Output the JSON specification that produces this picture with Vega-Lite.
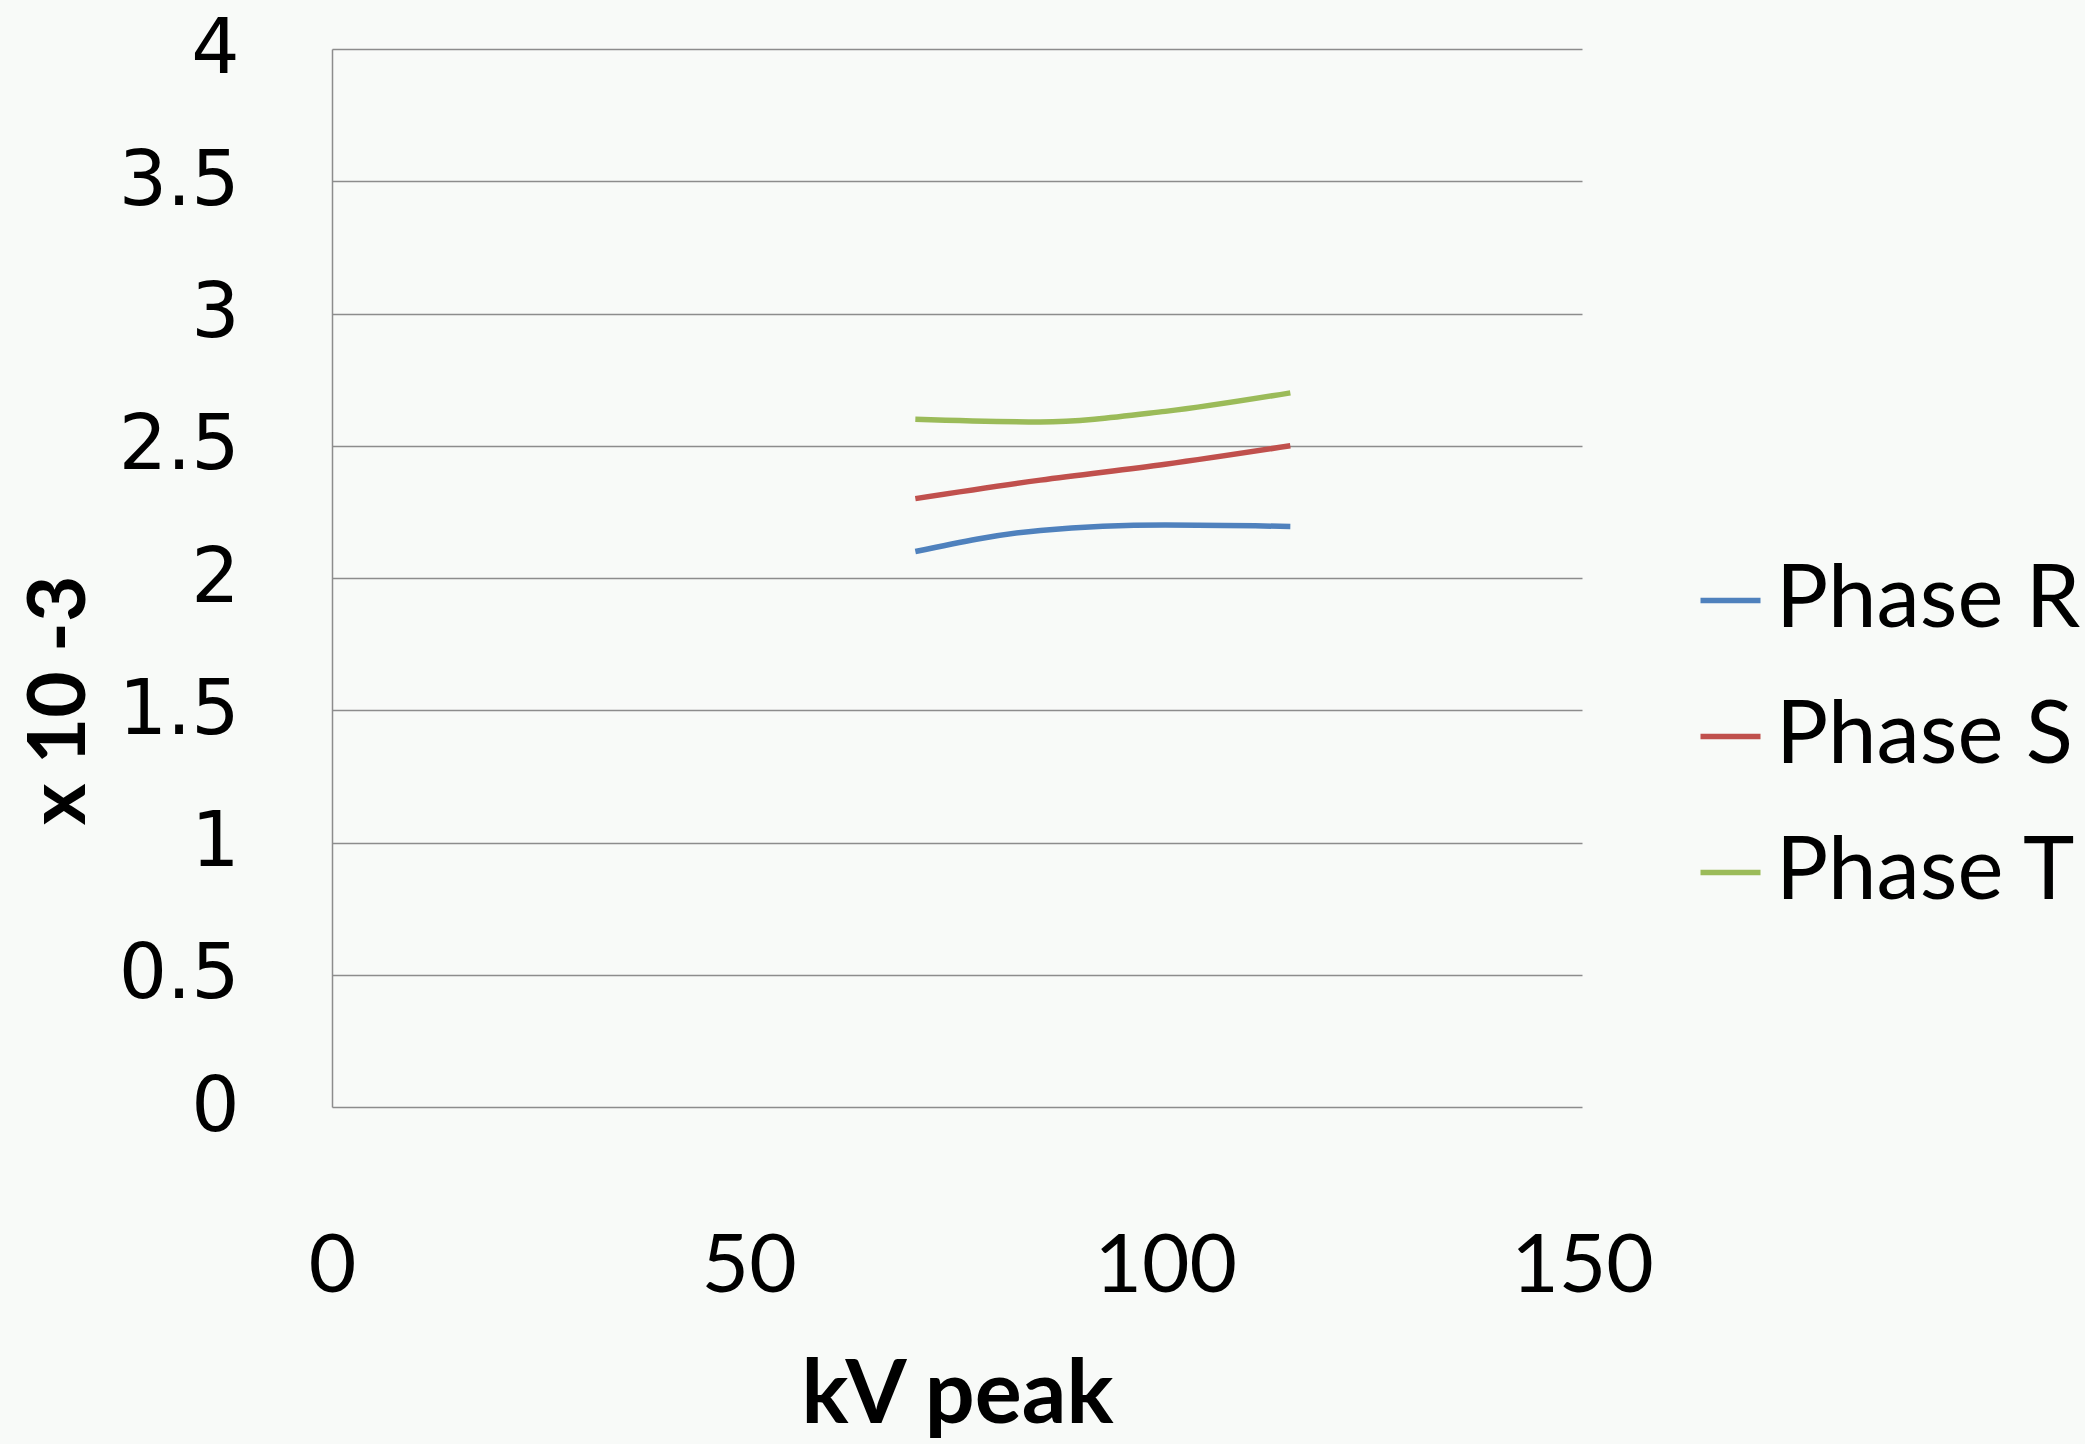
{
  "$schema": "https://vega.github.io/schema/vega-lite/v6.json",
  "width": 1250,
  "height": 1058,
  "autosize": "none",
  "padding": {"left": 332, "top": 49, "right": 503, "bottom": 337},
  "background": "#F8FAF8",
  "data": {
    "values": [
      {"kv": 70, "value": 2.1, "phase": "Phase R"},
      {"kv": 85, "value": 2.18, "phase": "Phase R"},
      {"kv": 100, "value": 2.2, "phase": "Phase R"},
      {"kv": 115, "value": 2.195, "phase": "Phase R"},
      {"kv": 70, "value": 2.3, "phase": "Phase S"},
      {"kv": 85, "value": 2.37, "phase": "Phase S"},
      {"kv": 100, "value": 2.43, "phase": "Phase S"},
      {"kv": 115, "value": 2.5, "phase": "Phase S"},
      {"kv": 70, "value": 2.6, "phase": "Phase T"},
      {"kv": 85, "value": 2.59, "phase": "Phase T"},
      {"kv": 100, "value": 2.63, "phase": "Phase T"},
      {"kv": 115, "value": 2.7, "phase": "Phase T"}
    ]
  },
  "mark": {"type": "line", "interpolate": "monotone", "strokeWidth": 5.5},
  "encoding": {
    "x": {
      "field": "kv", "type": "quantitative",
      "scale": {"domain": [0, 150], "nice": false, "zero": false},
      "axis": {
        "title": "kV peak",
        "values": [0, 50, 100, 150],
        "grid": false, "domain": false, "ticks": false,
        "labelFont": "Lato", "labelFontSize": 82, "labelColor": "#000000",
        "labelBaseline": "alphabetic", "labelPadding": 184,
        "labelFlush": false, "labelOverlap": false,
        "titleFont": "Lato", "titleFontSize": 88, "titleFontWeight": "bold", "titleColor": "#000000",
        "titleBaseline": "alphabetic", "titleY": 315
      }
    },
    "y": {
      "field": "value", "type": "quantitative",
      "scale": {"domain": [0, 4], "nice": false, "zero": false},
      "axis": {
        "title": "x 10 -3",
        "values": [0, 0.5, 1, 1.5, 2, 2.5, 3, 3.5, 4],
        "format": "~g",
        "grid": true, "gridColor": "#8C8C8C", "gridWidth": 1.5,
        "domain": true, "domainColor": "#8C8C8C", "domainWidth": 1.5,
        "ticks": false,
        "labelFont": "DejaVu Sans", "labelFontSize": 76, "labelColor": "#000000",
        "labelPadding": 93, "labelFlush": false, "labelOverlap": false,
        "titleFont": "Lato", "titleFontSize": 80, "titleFontWeight": "bold", "titleColor": "#000000",
        "titleAngle": -90, "titleAlign": "center", "titleBaseline": "middle",
        "titleX": -272, "titleY": 651
      }
    },
    "color": {
      "field": "phase", "type": "nominal",
      "scale": {"domain": ["Phase R", "Phase S", "Phase T"], "range": ["#4F81BD", "#C0504D", "#9BBB59"]},
      "legend": {
        "title": null,
        "orient": "none", "legendX": 1355, "legendY": 508,
        "padding": 0,
        "symbolType": "stroke", "symbolSize": 3600, "symbolStrokeWidth": 5.5,
        "labelFont": "Lato", "labelFontSize": 87, "labelColor": "#000000",
        "labelOffset": 2, "rowPadding": 48, "labelLimit": 0
      }
    }
  },
  "config": {"view": {"stroke": null}}
}
